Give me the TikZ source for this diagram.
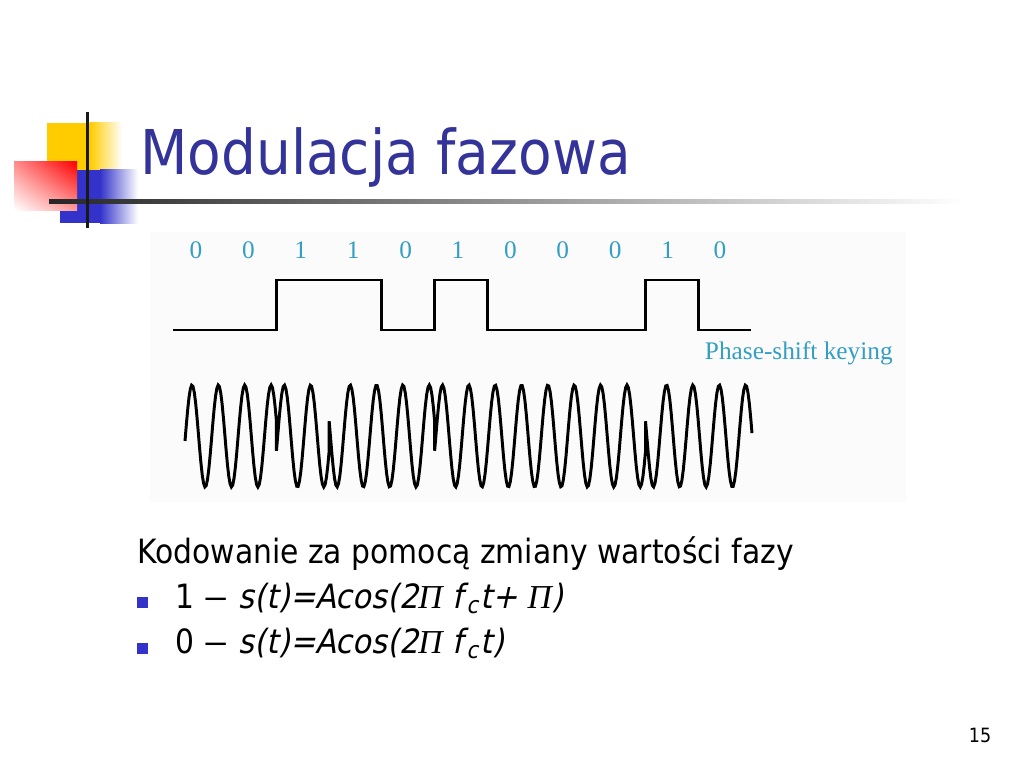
\documentclass[tikz,border=0pt]{standalone}
\usepackage{fontspec}
\usetikzlibrary{shadings}
\setmainfont{DejaVu Sans}[FakeStretch=0.89]
\newfontfamily\formfont{DejaVu Sans}[FakeStretch=0.91, FakeSlant=0.21]
\newfontfamily\figfont{Liberation Serif}
\newfontfamily\pifont{Liberation Serif}
\definecolor{titleblue}{RGB}{51,51,153}
\definecolor{bulletblue}{RGB}{51,51,204}
\definecolor{figcyan}{RGB}{52,158,196}
\definecolor{logoyellow}{RGB}{255,204,0}
\newcommand{\wave}[2]{436-51*(#2)*sin(90+13.655*(#1-192))}
\newcommand{\longdash}{\scalebox{1.7}[1]{–}}
\begin{document}
\begin{tikzpicture}[x=0.025cm, y=-0.025cm,
		signal/.style={line width=2.1pt, line join=miter},
		bitlabel/.style={text=figcyan, font=\figfont\fontsize{18}{20}\selectfont},
		bodytext/.style={anchor=base west, inner sep=0, font=\fontsize{23.8}{28}\selectfont},
		bullet/.style={fill=bulletblue, inner sep=0, minimum size=0.275cm}]
			\useasboundingbox (0,0) rectangle (1024,768);
			%logo
			\fill[logoyellow] (47,123) rectangle (90,170);
			\shade[left color=logoyellow, right color=white] (90,123) rectangle (122,170);
			\fill[bulletblue] (60,170) rectangle (100,223);
			\shade[left color=bulletblue, right color=white] (100,170) rectangle (138,223);
			\shade[upper right=red, upper left=red!45!white, lower right=red!40!white, lower left=white] (14,162) rectangle (77,210);
			\shade[left color=black!85, right color=white] (49,199) rectangle (965,203.5);
			\draw[line width=2.2pt, black!90] (87.5,112) -- (87.5,228);
			\node[anchor=base west, inner sep=0, text=titleblue, font=\fontsize{43.9}{50}\selectfont] (title) at (140,175) {Modulacja fazowa};
			
			%figure
			\fill[black!1.5] (150,232) rectangle (906,502);
			\foreach \b [count=\i from 0] in {0, 0, 1, 1, 0, 1, 0, 0, 0, 1, 0}{
				\node[bitlabel] (bit\i) at ({196+52.4*\i}, 250){\b};
			}
			\draw[signal] (173,330) -- (276.45,330) -- (276.45,280) -- (381.9,280) -- (381.9,330)
				-- (434.6,330) -- (434.6,280) -- (487.4,280) -- (487.4,330)
				-- (645.5,330) -- (645.5,280) -- (698.3,280) -- (698.3,330) -- (751,330);
			\node[bitlabel, anchor=west] (psk) at (700,353){Phase-shift keying};
			\draw[signal]
				plot[domain=185:276.45, samples=70] (\x, {\wave{\x}{1}})
				-- plot[domain=276.45:329.18, samples=40] (\x, {\wave{\x}{-1}})
				-- plot[domain=329.18:434.64, samples=80] (\x, {\wave{\x}{1}})
				-- plot[domain=434.64:645.55, samples=160] (\x, {\wave{\x}{-1}})
				-- plot[domain=645.55:752, samples=80] (\x, {\wave{\x}{1}});
			
			%text
			\node[bodytext] (intro) at (137,563){Kodowanie za pomocą zmiany wartości fazy};
			\node[bullet] (dot1) at (142.5,602.5){};
			\node[bodytext] (one) at (175,608){1 \longdash{} {\formfont s(t)=Acos(2\textit{\pifont Π} f\kern0.1em\textsubscript{c}\kern0.05em t+ \textit{\pifont Π})}};
			\node[bullet] (dot0) at (142.5,648.5){};
			\node[bodytext] (zero) at (175,653){0 \longdash{} {\formfont s(t)=Acos(2\textit{\pifont Π} f\kern0.1em\textsubscript{c}\kern0.05em t)}};
			\node[font=\fontsize{14}{16}\selectfont] (page) at (980,735){15};
		\end{tikzpicture}
\end{document}
